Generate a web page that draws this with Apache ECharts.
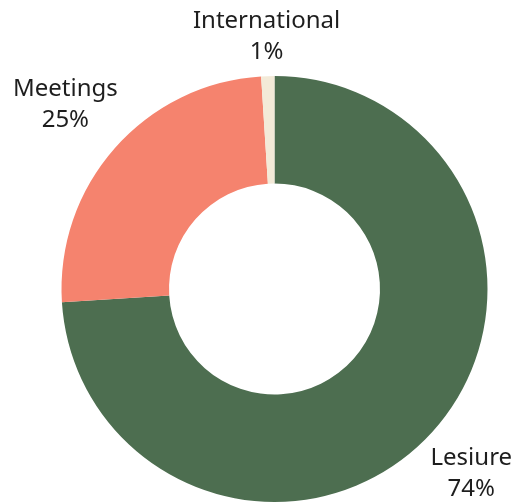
<!DOCTYPE html>
<html>
<head>
<meta charset="utf-8">
<script src="https://cdn.jsdelivr.net/npm/echarts@6/dist/echarts.min.js"></script>
<style>
  html, body { margin: 0; padding: 0; background: #fff; }
  #main { width: 517px; height: 504px; }
</style>
</head>
<body>
<div id="main"></div>
<script>
// donut - share by segment
var names = ['Lesiure', 'Meetings', 'International'];
var shares = [74, 25, 1];
var colors = ['#4d6e50', '#f5836e', '#f3ead8'];

var cx = 274.5, cy = 289, rIn = 105.5, rOut = 213;
var labelGap = 6;

var total = shares.reduce(function (a, b) { return a + b; }, 0);
var midAngles = [];
var acc = 0;
shares.forEach(function (v) {
  midAngles.push((acc + v / 2) / total * Math.PI * 2); // clockwise from top
  acc += v;
});

var chart = echarts.init(document.getElementById('main'), null, { renderer: 'canvas' });

var option = {
  animation: false,
  series: [{
    type: 'pie',
    center: [cx, cy],
    radius: [rIn, rOut],
    startAngle: 90,
    clockwise: true,
    avoidLabelOverlap: false,
    silent: true,
    label: {
      show: true,
      position: 'outside',
      formatter: '{b}\n{d}%',
      color: '#1e1e1e',
      fontFamily: 'Noto Sans',
      fontSize: 24,
      lineHeight: 31
    },
    labelLine: { show: false },
    labelLayout: function (p) {
      var a = midAngles[p.dataIndex];
      var dx = Math.sin(a), dy = -Math.cos(a);
      var hw = p.labelRect.width / 2, hh = p.labelRect.height / 2;
      var d = rOut + labelGap + hw * Math.abs(dx) + hh * Math.abs(dy);
      return {
        x: cx + dx * d,
        y: cy + dy * d,
        align: 'center',
        verticalAlign: 'middle'
      };
    },
    data: names.map(function (n, i) {
      return { name: n, value: shares[i], itemStyle: { color: colors[i] } };
    })
  }]
};

chart.setOption(option);
</script>
</body>
</html>
